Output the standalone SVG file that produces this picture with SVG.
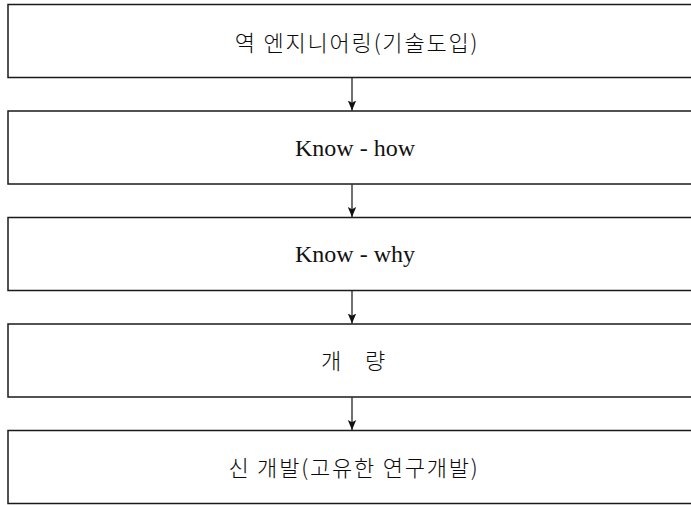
<svg xmlns="http://www.w3.org/2000/svg" width="691" height="505" viewBox="0 0 691 505">
  <style>
    .box { fill: #ffffff; stroke: #1a1a1a; stroke-width: 1.5; }
    .ko { font-family: "Noto Sans CJK KR", "Noto Sans", sans-serif; font-size: 22px; font-weight: 300; fill: #0a0a0a; text-anchor: middle; letter-spacing: 1.8px; }
    .en { font-family: "Liberation Serif", serif; font-size: 24px; fill: #111111; text-anchor: middle; }
    .conn { stroke: #111111; stroke-width: 1.2; fill: none; }
  </style>
  <defs>
    <marker id="arrow" markerWidth="11" markerHeight="11" refX="10" refY="5" orient="auto" markerUnits="userSpaceOnUse">
      <path d="M0,0.8 L10,5 L0,9.2 L2.2,5 Z" fill="#111111"/>
    </marker>
  </defs>
  <rect width="691" height="505" fill="#ffffff"/>
  <g id="node1">
    <rect class="box" x="8" y="4.5" width="696" height="73"/>
    <text class="ko" x="357" y="51">역 엔지니어링(기술도입)</text>
  </g>
  <g id="node2">
    <rect class="box" x="8" y="111" width="696" height="73"/>
    <text class="en" x="355" y="156">Know - how</text>
  </g>
  <g id="node3">
    <rect class="box" x="8" y="217.5" width="696" height="73"/>
    <text class="en" x="355" y="262">Know - why</text>
  </g>
  <g id="node4">
    <rect class="box" x="8" y="324" width="696" height="73"/>
    <text class="ko" x="332" y="369">개</text>
    <text class="ko" x="376" y="369">량</text>
  </g>
  <g id="node5">
    <rect class="box" x="8" y="430.5" width="696" height="73"/>
    <text class="ko" x="354" y="476">신 개발(고유한 연구개발)</text>
  </g>
  <g id="connectors">
    <line class="conn" x1="352" y1="78" x2="352" y2="110.5" marker-end="url(#arrow)"/>
    <line class="conn" x1="352" y1="184.5" x2="352" y2="217" marker-end="url(#arrow)"/>
    <line class="conn" x1="352" y1="291" x2="352" y2="323.5" marker-end="url(#arrow)"/>
    <line class="conn" x1="352" y1="397.5" x2="352" y2="430" marker-end="url(#arrow)"/>
  </g>
</svg>
